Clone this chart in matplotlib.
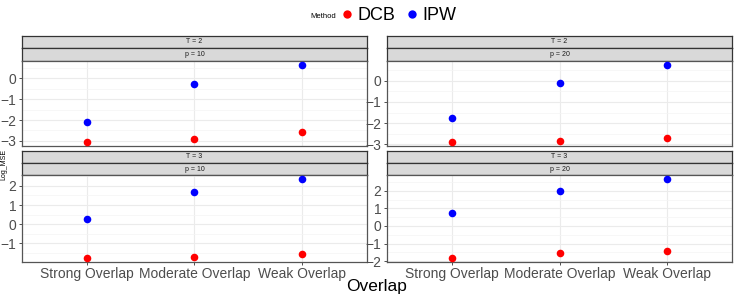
import matplotlib
matplotlib.use("Agg")
import matplotlib.pyplot as plt
from matplotlib.lines import Line2D
from matplotlib.ticker import MultipleLocator

plt.rcParams["font.family"] = ["Liberation Sans", "DejaVu Sans"]

# data
overlap = ["Strong Overlap", "Moderate Overlap", "Weak Overlap"]
methods = ["DCB", "IPW"]
colors = {"DCB": "#FF0000", "IPW": "#0000FF"}

dcb_T2_p10 = [-3.06, -2.89, -2.56]
ipw_T2_p10 = [-2.09, -0.27, 0.65]
dcb_T2_p20 = [-2.89, -2.84, -2.69]
ipw_T2_p20 = [-1.74, -0.12, 0.74]
dcb_T3_p10 = [-1.79, -1.72, -1.58]
ipw_T3_p10 = [0.28, 1.69, 2.37]
dcb_T3_p20 = [-1.82, -1.51, -1.41]
ipw_T3_p20 = [0.71, 1.97, 2.67]

panels = [
    ("T = 2", "p = 10", dcb_T2_p10, ipw_T2_p10),
    ("T = 2", "p = 20", dcb_T2_p20, ipw_T2_p20),
    ("T = 3", "p = 10", dcb_T3_p10, ipw_T3_p10),
    ("T = 3", "p = 20", dcb_T3_p20, ipw_T3_p20),
]

W, H = 737, 301
fig = plt.figure(figsize=(W / 100, H / 100), dpi=100)


def box(x0, y0, x1, y1):
    # pixel box (top-left origin) -> figure fraction
    return [x0 / W, 1 - y1 / H, (x1 - x0) / W, (y1 - y0) / H]


cols = [(22, 367), (387, 732)]
rows = [(36, 48, 61, 146), (151, 163, 175, 262)]
edge = "#555555"

for i, (t_lab, p_lab, dcb, ipw) in enumerate(panels):
    x0, x1 = cols[i % 2]
    s1, s2, p0, p1 = rows[i // 2]

    # strips
    for (a, b), lab in [((s1, s2), t_lab), ((s2, p0), p_lab)]:
        sax = fig.add_axes(box(x0, a, x1, b))
        sax.set_facecolor("#D9D9D9")
        sax.set_xticks([])
        sax.set_yticks([])
        for sp in sax.spines.values():
            sp.set_color("#333333")
            sp.set_linewidth(0.9)
        sax.text(0.5, 0.5, lab, ha="center", va="center", fontsize=5,
                 color="#1A1A1A", transform=sax.transAxes)

    ax = fig.add_axes(box(x0, p0, x1, p1))
    xs = list(range(1, len(overlap) + 1))
    vals = dcb + ipw
    lo, hi = min(vals), max(vals)
    pad = (hi - lo) * 0.05
    ax.set_ylim(lo - pad, hi + pad)
    ax.set_xlim(0.4, len(overlap) + 0.6)

    ax.scatter(xs, dcb, s=30, color=colors["DCB"], zorder=3, clip_on=False, linewidths=0)
    ax.scatter(xs, ipw, s=30, color=colors["IPW"], zorder=3, clip_on=False, linewidths=0)

    ax.yaxis.set_major_locator(MultipleLocator(1))
    ax.yaxis.set_minor_locator(MultipleLocator(0.5))
    ax.set_xticks(xs)
    ax.grid(which="major", color="#EBEBEB", linewidth=0.8, zorder=0)
    ax.grid(which="minor", axis="y", color="#F4F4F4", linewidth=0.5, zorder=0)
    ax.set_axisbelow(True)
    ax.tick_params(axis="both", which="major", length=2.5, width=0.6, color="#333333",
                   labelsize=10, labelcolor="#4D4D4D", pad=1.5)
    ax.tick_params(which="minor", length=0)
    if i // 2 == 1:
        ax.set_xticklabels(overlap)
        ax.tick_params(axis="x", pad=1)
    else:
        ax.set_xticklabels([])
        ax.tick_params(axis="x", length=0)
    for sp in ax.spines.values():
        sp.set_color(edge)
        sp.set_linewidth(0.9)

fig.text(377 / W, 1 - 287 / H, "Overlap", ha="center", va="center", fontsize=12.5)
fig.text(4 / W, 1 - 164 / H, "Log_MSE", ha="center", va="center", rotation=90, fontsize=5)

# legend
fig.text(336 / W, 1 - 16 / H, "Method", ha="right", va="center", fontsize=5.5)
handles = [Line2D([0], [0], marker="o", linestyle="", markersize=6,
                  markerfacecolor=colors[m], markeredgewidth=0) for m in methods]
fig.legend(handles, methods, loc="center left", bbox_to_anchor=(338 / W, 1 - 16 / H),
           ncol=2, frameon=False, fontsize=13, handletextpad=0.1, columnspacing=0.4,
           handlelength=1.0, borderpad=0, borderaxespad=0)

fig.savefig("out.png", dpi=100)
